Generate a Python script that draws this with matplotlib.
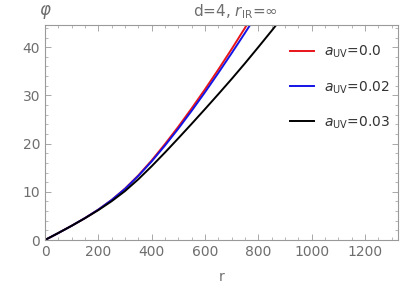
import numpy as np
import matplotlib
matplotlib.use("Agg")
import matplotlib.pyplot as plt
from matplotlib.ticker import MultipleLocator

# values
r = [0, 50, 100, 150, 200, 250, 300, 350, 400, 450, 500, 550, 600, 650, 700, 750, 800, 850, 900]
phi_a00 = [0, 1.45, 2.95, 4.55, 6.3, 8.3, 10.65, 13.4, 16.5, 19.9, 23.5, 27.3, 31.25, 35.35, 39.6, 44.0, 48.55, 53.25, 58.1]
phi_a002 = [0, 1.45, 2.95, 4.55, 6.3, 8.3, 10.6, 13.3, 16.3, 19.6, 23.1, 26.8, 30.65, 34.65, 38.75, 42.95, 47.25, 51.65, 56.15]
phi_a003 = [0, 1.45, 2.95, 4.52, 6.2, 8.05, 10.15, 12.6, 15.3, 18.15, 21.1, 24.1, 27.15, 30.25, 33.4, 36.65, 40.0, 43.4, 46.9]

labels = ["$a_{\\mathrm{UV}}$=0.0", "$a_{\\mathrm{UV}}$=0.02", "$a_{\\mathrm{UV}}$=0.03"]
colors = ["#e8141a", "#1414e6", "#000000"]

gray = "#9a9a9a"
txt = "#6e6e6e"

fig = plt.figure(figsize=(4.07, 2.88), dpi=100)
ax = fig.add_axes([45/407, 1 - 240/288, (398-45)/407, (240-25)/288])

for y, c, lab in zip([phi_a00, phi_a002, phi_a003], colors, labels):
    ax.plot(r, y, color=c, lw=1.4, label=lab)

ax.set_xlim(0, 1324)
ax.set_ylim(0, 44.6)

ax.xaxis.set_major_locator(MultipleLocator(200))
ax.xaxis.set_minor_locator(MultipleLocator(50))
ax.yaxis.set_major_locator(MultipleLocator(10))
ax.yaxis.set_minor_locator(MultipleLocator(2))
ax.tick_params(which="both", direction="in", top=True, right=True, color=gray,
               labelcolor=txt, labelsize=10)
ax.tick_params(which="major", length=4, width=0.6)
ax.tick_params(which="minor", length=2, width=0.5)
for s in ax.spines.values():
    s.set_color(gray)
    s.set_linewidth(0.8)

ax.set_xlabel("r", color=txt, fontsize=10, labelpad=8)
fig.text(45/407, 1 - 12/288, "$\\varphi$", color=txt, fontsize=12, ha="center", va="center")
fig.text(235/407, 1 - 12/288, "d=4, $r_{\\mathrm{IR}}$=\u221e", color=txt, fontsize=11,
         ha="center", va="center")

leg = ax.legend(loc="upper left", bbox_to_anchor=(0.66, 0.97), frameon=False,
                fontsize=10, labelspacing=1.35, handlelength=1.7, handletextpad=0.7)
for t in leg.get_texts():
    t.set_color("#333333")

fig.savefig("out.png", dpi=100)
